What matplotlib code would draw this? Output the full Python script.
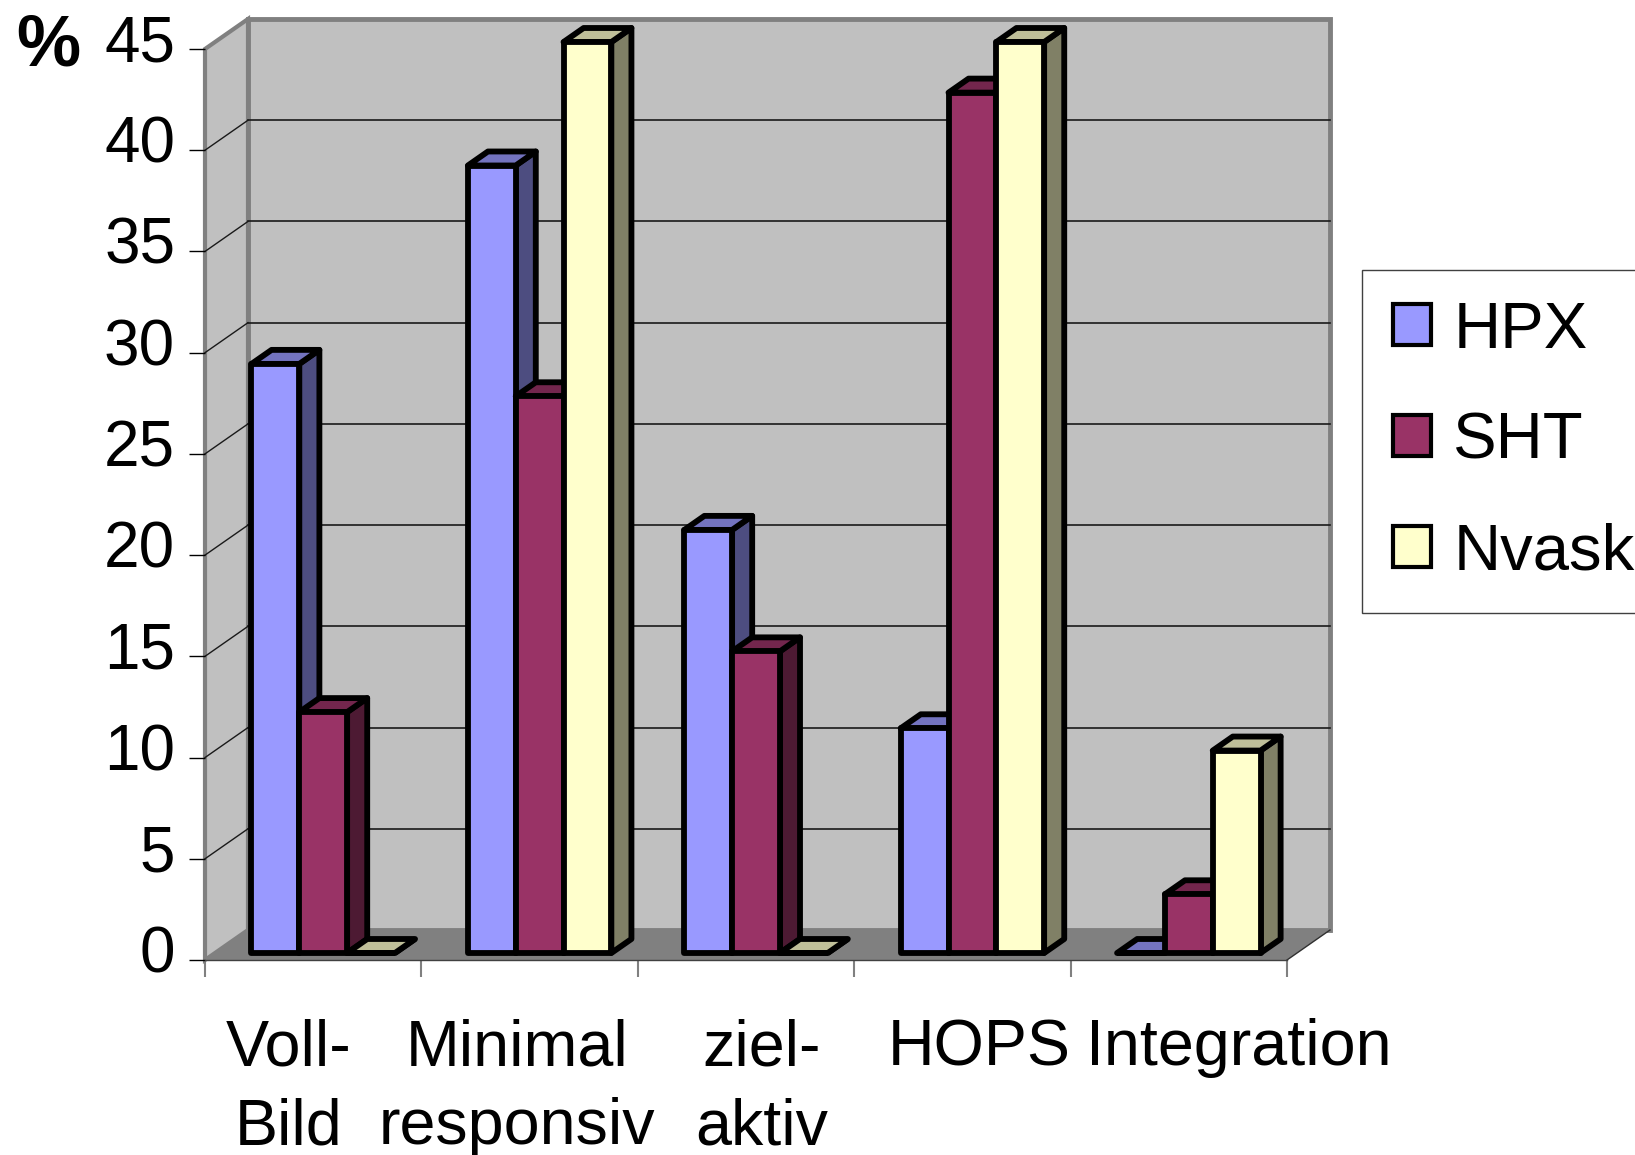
import numpy as np
import matplotlib
matplotlib.use('Agg')
import matplotlib.pyplot as plt
import matplotlib.patches as mpatches
from matplotlib.transforms import ScaledTranslation

plt.rcParams['font.family'] = ['Liberation Sans', 'DejaVu Sans']

# data
categories = ['Voll-\nBild', 'Minimal\nresponsiv', 'ziel-\naktiv', 'HOPS', 'Integration']
series = ['HPX', 'SHT', 'Nvask']
hpx = [29.1, 38.9, 20.9, 11.1, 0.0]
sht = [11.9, 27.5, 14.9, 42.5, 2.9]
nvask = [0.0, 45.0, 0.0, 45.0, 10.0]
yticks = [0, 5, 10, 15, 20, 25, 30, 35, 40, 45]

colors = ['#9999FF', '#993366', '#FFFFCC']

# pseudo-3d geometry (data units)
DX, DY = 0.1987, 1.482      # depth of the floor / walls
F0, F1 = 0.233, 0.70        # front and back of the bars as a fraction of the depth
BAR_W = 0.221
YMAX = 45
EDGE_LW = 4.2
label_x = [0.388, 1.442, 2.574, 3.577, 4.778]


def shade(c, f):
    r, g, b = matplotlib.colors.to_rgb(c)
    return (r * f, g * f, b * f)


fig = plt.figure(figsize=(16.35, 11.55), dpi=100)
ax = fig.add_axes([205 / 1635, 1 - 960 / 1155, 1082 / 1635, 911 / 1155])
ax.set_xlim(0, len(categories))
ax.set_ylim(0, YMAX)
ax.patch.set_visible(False)
n = len(categories)

# walls and floor
back = mpatches.Rectangle((DX, DY), n, YMAX, facecolor='#C0C0C0', edgecolor='#808080',
                          lw=3.5, zorder=0.5, clip_on=False)
side = mpatches.Polygon([(0, 0), (DX, DY), (DX, YMAX + DY), (0, YMAX)], closed=True,
                        facecolor='#C0C0C0', edgecolor='#808080', lw=3, zorder=0.6,
                        clip_on=False)
ax.add_patch(back)
ax.add_patch(side)
for v in yticks[1:-1]:
    ax.plot([DX, n + DX], [v + DY, v + DY], color='#1a1a1a', lw=1.2, zorder=1, clip_on=False)
    ax.plot([0, DX], [v, v + DY], color='#1a1a1a', lw=1.0, zorder=1, clip_on=False)
floor = mpatches.Polygon([(0, 0), (n, 0), (n + DX, DY), (DX, DY)], closed=True,
                         facecolor='#808080', edgecolor='none', zorder=1.5, clip_on=False)
ax.add_patch(floor)
ax.plot([n, n + DX], [0, DY], color='#303030', lw=1.0, zorder=1.6, clip_on=False)

# bars: side, top, then front, one series after another
ddx, ddy = (F1 - F0) * DX, (F1 - F0) * DY
x0 = np.arange(n) + 0.5 - 1.5 * BAR_W + F0 * DX
for j, vals in enumerate([hpx, sht, nvask]):
    z = 3 + j
    c = colors[j]
    left = x0 + j * BAR_W
    for xl, v in zip(left, vals):
        xr = xl + BAR_W
        b = F0 * DY
        ax.add_patch(mpatches.Polygon([(xr, b), (xr + ddx, b + ddy), (xr + ddx, b + v + ddy), (xr, b + v)],
                                      closed=True, facecolor=shade(c, 0.5), edgecolor='black',
                                      lw=EDGE_LW, joinstyle='round', zorder=z, clip_on=False))
        ax.add_patch(mpatches.Polygon([(xl, b + v), (xr, b + v), (xr + ddx, b + v + ddy), (xl + ddx, b + v + ddy)],
                                      closed=True, facecolor=shade(c, 0.75), edgecolor='black',
                                      lw=EDGE_LW, joinstyle='round', zorder=z + 0.1, clip_on=False))
    ax.bar(left, vals, width=BAR_W, bottom=F0 * DY, align='edge', color=c, edgecolor='black',
           lw=EDGE_LW, joinstyle='round', zorder=z + 0.2, clip_on=False)

# axes
for s in ['top', 'right', 'left']:
    ax.spines[s].set_visible(False)
ax.spines['bottom'].set_color('#404040')
ax.spines['bottom'].set_linewidth(1.0)
ax.spines['bottom'].set_zorder(1.7)
ax.set_yticks(yticks)
ax.tick_params(axis='y', length=11.5, width=1.0, color='black', labelsize=46, pad=10)
ax.set_xticks(np.arange(n + 1))
ax.set_xticklabels([])
ax.tick_params(axis='x', length=12, width=1.5, color='#808080')
for lab in ax.get_yticklabels():
    lab.set_transform(lab.get_transform() + ScaledTranslation(0, 11 / 100, fig.dpi_scale_trans))

for x, txt in zip(label_x, categories):
    ax.annotate(txt, xy=(x, 0), xycoords=('data', 'axes fraction'), xytext=(0, -42),
                textcoords='offset points', ha='center', va='top', fontsize=46.5,
                linespacing=1.4, annotation_clip=False)

fig.text(48 / 1635, 1 - 65 / 1155, '%', ha='center', va='baseline', fontsize=52, fontweight='bold')

handles = [mpatches.Patch(facecolor=c, edgecolor='black', lw=3) for c in colors]
leg_top = 1 - 270 / 1155
leg = ax.legend(handles, series, loc='upper left', mode='expand',
                bbox_to_anchor=(1362 / 1635, leg_top - 0.3, 0.25, 0.3),
                bbox_transform=fig.transFigure, fontsize=47, handlelength=0.58, handleheight=0.58,
                handletextpad=0.35, labelspacing=0.78, borderpad=0.47, borderaxespad=0,
                fancybox=False, framealpha=1)
leg.get_frame().set_edgecolor('#404040')
leg.get_frame().set_linewidth(1.0)

fig.savefig('out.png', dpi=100, facecolor='white')
